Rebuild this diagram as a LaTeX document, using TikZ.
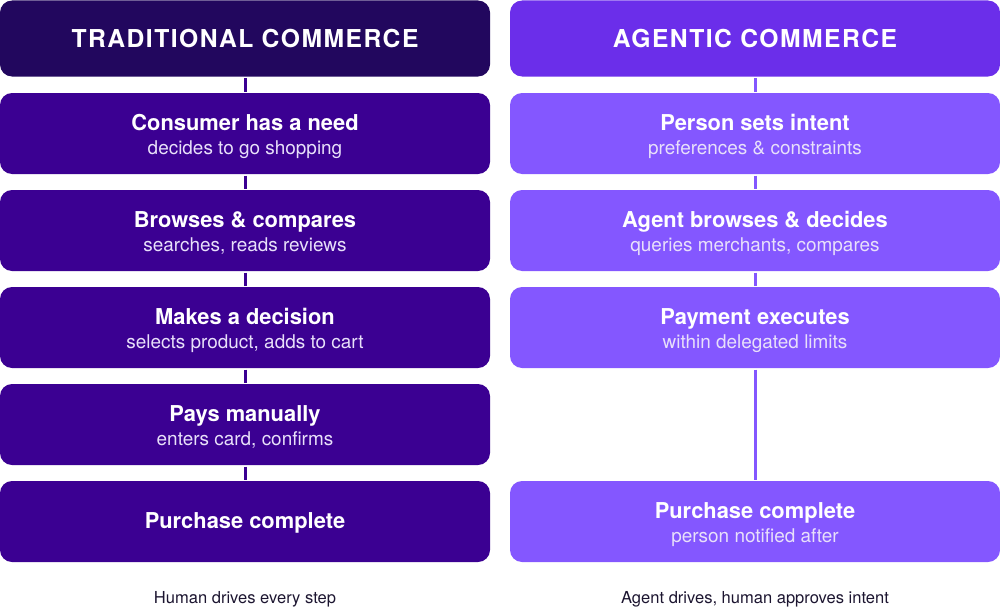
\documentclass[tikz,border=0pt]{standalone}
\usepackage{fontspec}
\setmainfont{TeX Gyre Heros}
\newfontfamily\headfont[LetterSpace=6]{TeX Gyre Heros}
\usetikzlibrary{positioning}
\definecolor{cnight}{HTML}{22075E}
\definecolor{cdeep}{HTML}{3B0092}
\definecolor{cviolet}{HTML}{6B2EEA}
\definecolor{clilac}{HTML}{8457FF}
\definecolor{cink}{HTML}{1C1530}
\definecolor{csub}{HTML}{E8E0FA}
\newcommand{\steptext}[2]{{\fontsize{16.4}{18}\selectfont\bfseries\rule{0pt}{16pt}#1}\\{\color{csub}#2}}
\tikzset{
  every picture/.style={line width=2.25pt},
  head/.style={fill=#1, rounded corners=9pt, minimum width=367.5pt, minimum height=57pt, inner sep=0pt, text=white, font=\headfont\bfseries\fontsize{18.5}{20}\selectfont},
  stepbox/.style={fill=#1, rounded corners=9pt, minimum width=367.5pt, minimum height=60.75pt, inner sep=0pt, text=white, align=center, font=\fontsize{14.2}{18}\selectfont},
  link/.style={draw=#1, line width=2.25pt},
  caption/.style={text=cink, font=\fontsize{12.4}{14}\selectfont},
}

\begin{document}
\begin{tikzpicture}[x=0.75pt, y=-0.75pt]
  \useasboundingbox (0,0) rectangle (1000,614);
  % traditional side
  \node[head=cnight] (trad) at (245,38.5) {TRADITIONAL COMMERCE};
  \node[stepbox=cdeep] (need) at (245,133.5) {\steptext{Consumer has a need}{decides to go shopping}};
  \node[stepbox=cdeep] (browse) at (245,230.5) {\steptext{Browses \& compares}{searches, reads reviews}};
  \node[stepbox=cdeep] (decide) at (245,327.5) {\steptext{Makes a decision}{selects product, adds to cart}};
  \node[stepbox=cdeep] (pay) at (245,424.5) {\steptext{Pays manually}{enters card, confirms}};
  \node[stepbox=cdeep, font=\fontsize{16.4}{18}\selectfont\bfseries] (done) at (245,521.5) {\rule{0pt}{14pt}Purchase complete};
  \foreach \a/\b in {trad/need, need/browse, browse/decide, decide/pay, pay/done}
    \draw[link=cdeep] (\a.south) -- (\b.north);
  % agentic side
  \node[head=cviolet] (agent) at (755,38.5) {AGENTIC COMMERCE};
  \node[stepbox=clilac] (intent) at (755,133.5) {\steptext{Person sets intent}{preferences \& constraints}};
  \node[stepbox=clilac] (abrowse) at (755,230.5) {\steptext{Agent browses \& decides}{queries merchants, compares}};
  \node[stepbox=clilac] (exec) at (755,327.5) {\steptext{Payment executes}{within delegated limits}};
  \node[stepbox=clilac] (adone) at (755,521.5) {\steptext{Purchase complete}{person notified after}};
  \foreach \a/\b in {agent/intent, intent/abrowse, abrowse/exec, exec/adone}
    \draw[link=clilac] (\a.south) -- (\b.north);
  % footers
  \node[caption] (hcap) at (245,599) {Human drives every step};
  \node[caption] (acap) at (755,599) {Agent drives, human approves intent};
\end{tikzpicture}
\end{document}
